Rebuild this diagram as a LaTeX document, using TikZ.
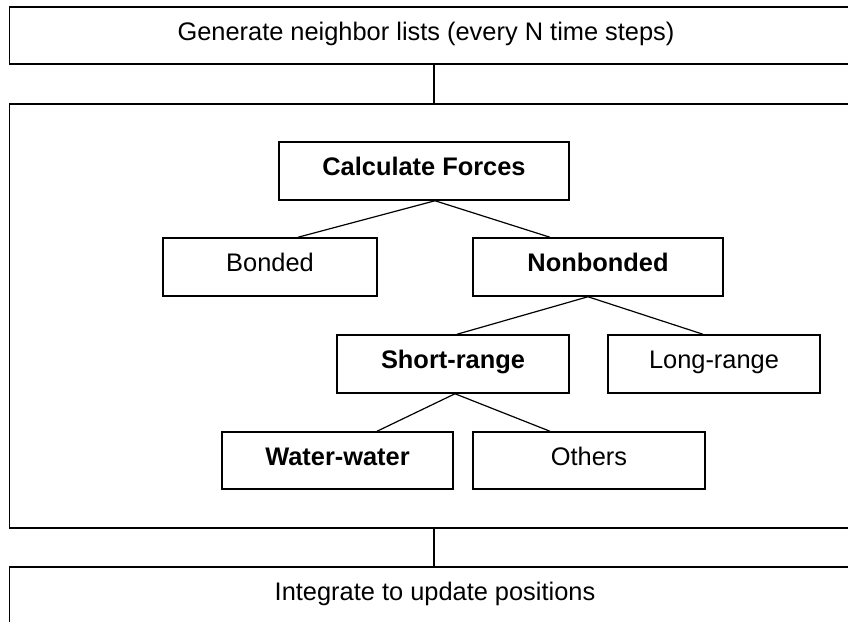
\documentclass[tikz,border=0pt]{standalone}
\usepackage{fontspec}
\setmainfont{Liberation Sans}
\begin{document}
\begin{tikzpicture}[x=1pt,y=-1pt,
  txt/.style={font=\fontsize{25.4}{29}\selectfont, inner sep=0pt, text height=18pt, text depth=8.2pt},
  outerbox/.style={draw, line width=1.8pt, inner sep=0pt, minimum width=849pt},
  stepbox/.style={draw, line width=1.5pt, txt},
  conn/.style={line width=1.2pt}]
\clip (0,0) rectangle (848,621);
\useasboundingbox (0,0) rectangle (848,621);
% outer boxes
\node[outerbox, minimum height=57pt] (gen) at (434,35.5) {};
\node[outerbox, minimum height=424pt] (main) at (434,316) {};
\node[outerbox, minimum height=73pt] (integ) at (434,603.5) {};
\node[txt] (gentext) at (426,36) {Generate neighbor lists (every N time steps)};
\node[txt] (integtext) at (435,595.5) {Integrate to update positions};
\draw[conn] (gen.south) -- (main.north);
\draw[conn] (main.south) -- (integ.north);
% inner boxes
\node[stepbox, minimum width=290pt, minimum height=58pt] (calc) at (424,171) {\bfseries Calculate Forces};
\node[stepbox, minimum width=214pt, minimum height=58pt] (bonded) at (270,267) {Bonded};
\node[stepbox, minimum width=250pt, minimum height=58pt] (nonb) at (598,267) {\bfseries Nonbonded};
\node[stepbox, minimum width=232pt, minimum height=58pt] (short) at (453,364) {\bfseries Short-range};
\node[stepbox, minimum width=212pt, minimum height=58pt] (long) at (714,364) {Long-range};
\node[stepbox, minimum width=231pt, minimum height=57pt] (water) at (337.5,460.5) {\bfseries Water-water};
\node[stepbox, minimum width=232pt, minimum height=57pt] (others) at (589,460.5) {Others};
% connectors
\draw[conn] ([xshift=11pt]calc.south) -- ([xshift=28pt]bonded.north);
\draw[conn] ([xshift=11pt]calc.south) -- ([xshift=-48pt]nonb.north);
\draw[conn] ([xshift=-10pt]nonb.south) -- ([xshift=4pt]short.north);
\draw[conn] ([xshift=-10pt]nonb.south) -- ([xshift=-11pt]long.north);
\draw[conn] ([xshift=2pt]short.south) -- ([xshift=39.5pt]water.north);
\draw[conn] ([xshift=2pt]short.south) -- ([xshift=-39pt]others.north);
\end{tikzpicture}
\end{document}
